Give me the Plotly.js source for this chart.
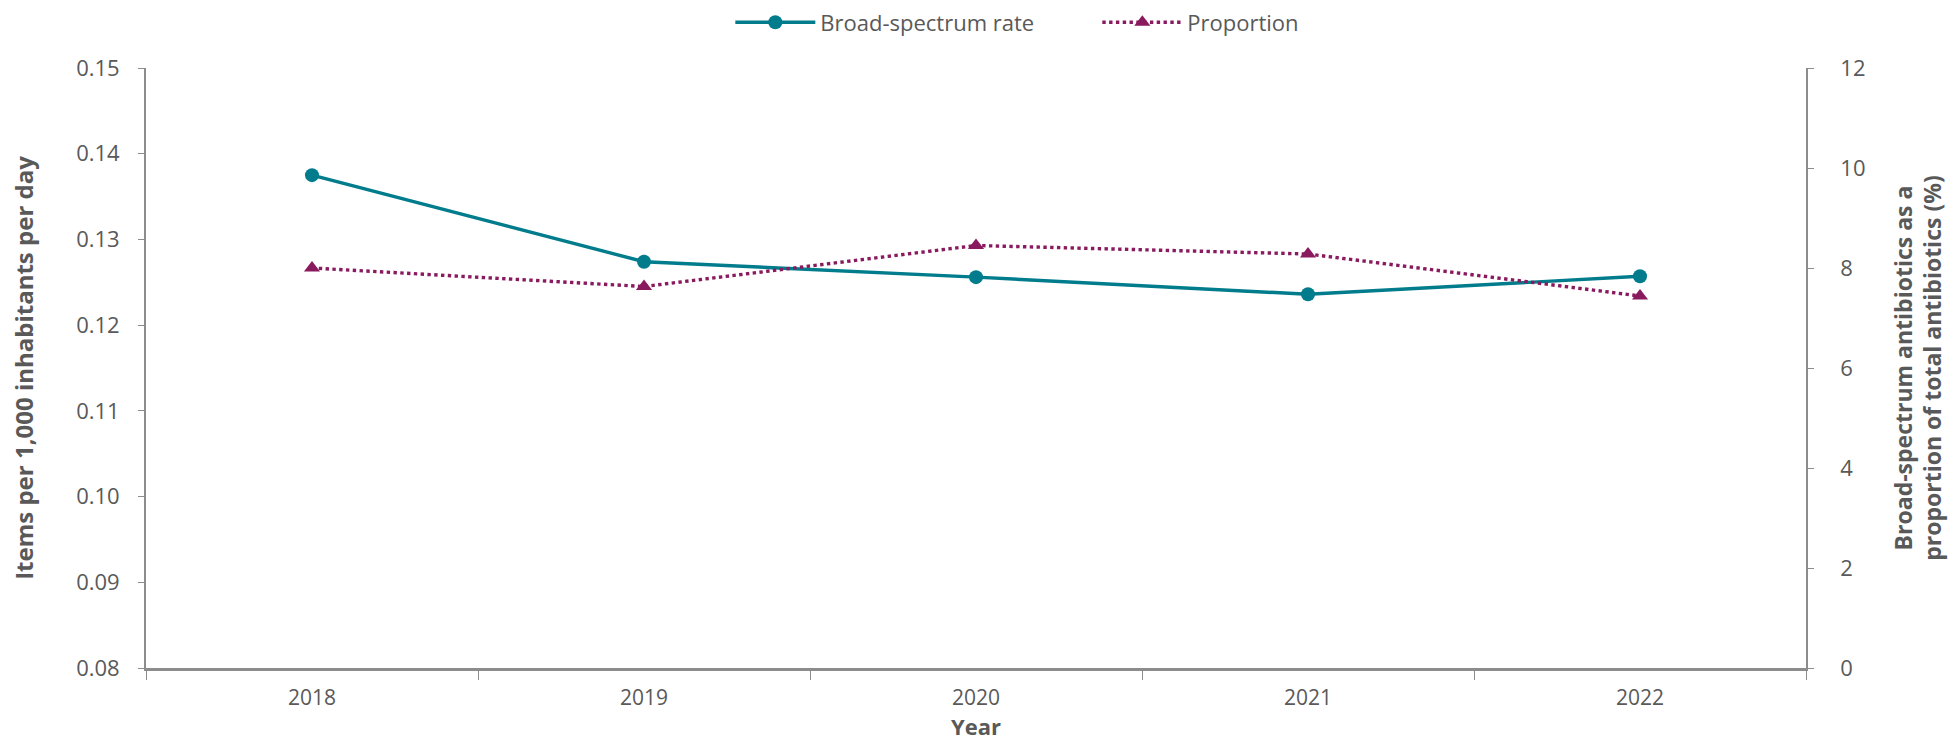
<!DOCTYPE html>
<html>
<head>
<meta charset="utf-8">
<script src="https://cdn.plot.ly/plotly-3.0.1.min.js"></script>
<style>
  html, body { margin: 0; padding: 0; background: #fff; }
  #chart { width: 1950px; height: 741px; }
</style>
</head>
<body>
<div id="chart"></div>
<script>
const years = ["2018", "2019", "2020", "2021", "2022"];
const broadSpectrumRate = [0.1375, 0.1274, 0.1256, 0.1236, 0.1257];
const proportionPct = [8.0, 7.63, 8.45, 8.28, 7.44];

const seriesNames = ["Broad-spectrum rate", "Proportion"];
const leftTitle = "Items per 1,000 inhabitants per day";
const rightTitle = "Broad-spectrum antibiotics as a<br>proportion of total antibiotics (%)";
const xTitle = "Year";

const teal = "#007C8C";
const plum = "#8A1A5E";
const grey = "#595959";
const axisGrey = "#8C8C8C";
const fontFam = "'Open Sans', 'Noto Sans', sans-serif";

const traces = [
  {
    x: years, y: broadSpectrumRate, name: seriesNames[0], type: "scatter", mode: "lines+markers",
    line: { color: teal, width: 3.4 },
    marker: { symbol: "circle", size: 14, color: teal },
    yaxis: "y"
  },
  {
    x: years, y: proportionPct, name: seriesNames[1], type: "scatter", mode: "lines+markers",
    line: { color: plum, width: 3.4, dash: "dot" },
    marker: { symbol: "triangle-up", size: 14, color: plum },
    yaxis: "y2"
  }
];

const layout = {
  width: 1950, height: 741,
  margin: { l: 145.5, r: 144, t: 68, b: 73, autoexpand: false },
  paper_bgcolor: "#fff", plot_bgcolor: "#fff",
  font: { family: fontFam, color: grey, size: 20 },
  showlegend: true,
  legend: {
    orientation: "h", x: 0.352, xanchor: "left", y: 1.076, yanchor: "middle",
    font: { size: 22, color: grey, family: fontFam },
    itemwidth: 80, entrywidth: 272, traceorder: "normal", tracegroupgap: 0
  },
  xaxis: {
    type: "category", range: [-0.5, 4.5],
    showline: true, linecolor: axisGrey, linewidth: 2.5,
    ticks: "outside", tickson: "boundaries", ticklen: 9, tickcolor: axisGrey, tickwidth: 1.3,
    showgrid: false, zeroline: false,
    tickfont: { size: 21, color: grey },
    ticklabelstandoff: 9,
    title: { text: xTitle, font: { size: 22, color: grey, family: fontFam, weight: "bold" }, standoff: 10 }
  },
  yaxis: {
    range: [0.08, 0.15], dtick: 0.01, tick0: 0.08, tickformat: ".2f",
    showline: true, linecolor: axisGrey, linewidth: 1.8,
    ticks: "outside", ticklen: 6, tickcolor: axisGrey, tickwidth: 1.3,
    showgrid: false, zeroline: false,
    tickfont: { size: 22, color: grey },
    ticklabelstandoff: 14,
    title: { text: leftTitle, font: { size: 24, color: grey, family: fontFam, weight: "bold" }, standoff: 36 }
  },
  yaxis2: {
    range: [0, 12], dtick: 2, tick0: 0, overlaying: "y", side: "right",
    showline: true, linecolor: axisGrey, linewidth: 1.8,
    ticks: "outside", ticklen: 6, tickcolor: axisGrey, tickwidth: 1.3,
    showgrid: false, zeroline: false,
    tickfont: { size: 22, color: grey },
    ticklabelstandoff: 22,
    title: { text: rightTitle, font: { size: 23, color: grey, family: fontFam, weight: "bold" }, standoff: 31 }
  }
};

Plotly.newPlot("chart", traces, layout, { displayModeBar: false, responsive: false });
</script>
</body>
</html>
